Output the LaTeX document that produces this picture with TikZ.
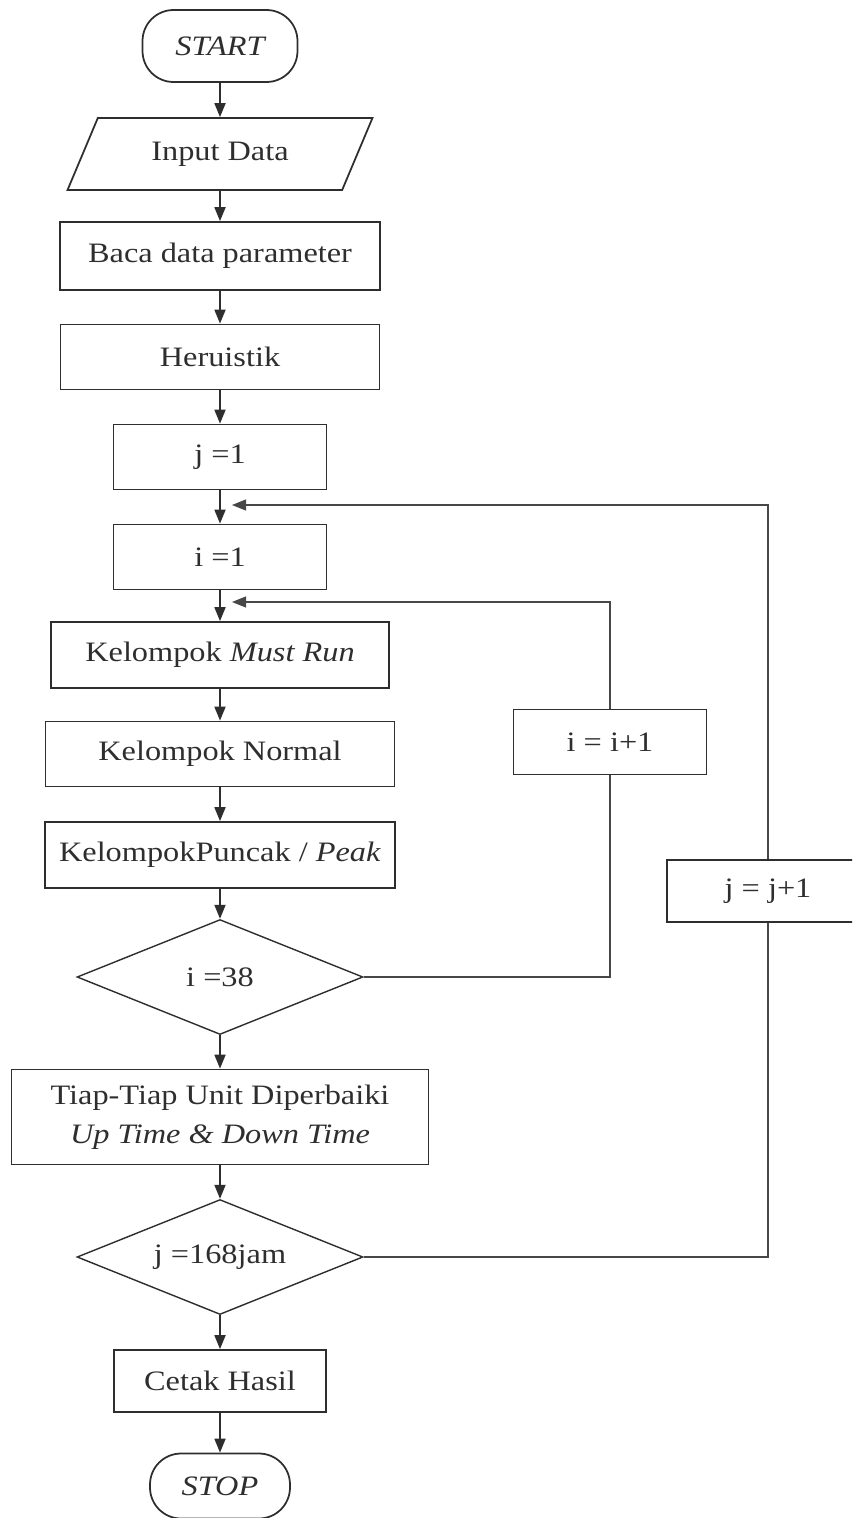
\documentclass[tikz,border=0pt]{standalone}
\usepackage{fontspec}
\setmainfont[FakeStretch=1.15]{Liberation Serif}
\usepackage{xcolor}
\usepackage{tikz}
\usetikzlibrary{shapes.geometric,arrows.meta}
\definecolor{ink}{HTML}{2E2E2E}
\definecolor{wire}{HTML}{474747}

\begin{document}
\begin{tikzpicture}[x=0.02cm, y=-0.02cm,
    font=\fontsize{16}{22}\selectfont, text=ink,
    box/.style={draw=ink, line width=1pt, rectangle, minimum height=1.3cm, inner sep=2pt},
    term/.style={draw=ink, line width=1pt, rectangle, rounded corners=0.62cm, minimum width=3.1cm, minimum height=1.44cm, font=\fontsize{16}{22}\selectfont\itshape},
    io/.style={draw=ink, line width=1pt, trapezium, trapezium left angle=50, trapezium right angle=130, trapezium stretches body=true, minimum width=6.1cm, minimum height=1.44cm},
    cek/.style={draw=ink, line width=0.8pt, diamond, aspect=2.5, minimum width=5.72cm, minimum height=2.3cm, inner sep=0pt},
    flow/.style={draw=ink, line width=1pt, -{Triangle[length=0.28cm, width=0.22cm]}},
    back/.style={draw=wire, line width=0.6pt},
  ]
  \useasboundingbox (0,0) rectangle (852,1518);
  \clip (0,0) rectangle (852,1518);

  % main column
  \node[term] (start) at (220,46) {START};
  \node[io] (input) at (220,154) {Input Data};
  \node[box, minimum width=6.4cm, minimum height=1.36cm] (baca) at (220,256) {Baca data parameter};
  \node[box, minimum width=6.38cm] (heur) at (220,357) {Heruistik};
  \node[box, minimum width=4.26cm] (jset) at (220,457) {j =1};
  \node[box, minimum width=4.26cm] (iset) at (220,557) {i =1};
  \node[box, minimum width=6.76cm, minimum height=1.32cm] (must) at (220,655) {Kelompok \textit{Must Run}};
  \node[box, minimum width=6.98cm] (norm) at (220,754) {Kelompok Normal};
  \node[box, minimum width=7cm, minimum height=1.32cm] (peak) at (220,855) {KelompokPuncak / \textit{Peak}};
  \node[cek] (ceki) at (220,977) {i =38};
  \node[box, minimum width=8.34cm, minimum height=1.9cm, align=center] (tiap) at (220,1117) {Tiap-Tiap Unit Diperbaiki\\ \textit{Up Time \& Down Time}};
  \node[cek] (cekj) at (220,1257) {j =168jam};
  \node[box, minimum width=4.24cm, minimum height=1.24cm] (cetak) at (220,1381) {Cetak Hasil};
  \node[term, minimum width=2.8cm, minimum height=1.3cm] (stop) at (220,1486) {STOP};

  % counters
  \node[box, minimum width=3.86cm] (inci) at (610,742) {i = i+1};
  \node[box, minimum width=4.04cm, minimum height=1.24cm] (incj) at (768,891) {j = j+1};
  \coordinate (iback) at (232,602);
  \coordinate (jback) at (232,505);

  \foreach \a/\b in {start/input, input/baca, baca/heur, heur/jset, jset/iset, iset/must,
                     must/norm, norm/peak, peak/ceki, ceki/tiap, tiap/cekj, cekj/cetak, cetak/stop}
    \draw[flow] (\a) -- (\b);

  % loops
  \draw[back] (ceki.east) -| (inci.south);
  \draw[back, -{Triangle[length=0.28cm, width=0.22cm]}] (inci.north) |- (iback);
  \draw[back] (cekj.east) -| (incj.south);
  \draw[back, -{Triangle[length=0.28cm, width=0.22cm]}] (incj.north) |- (jback);
\end{tikzpicture}
\end{document}
